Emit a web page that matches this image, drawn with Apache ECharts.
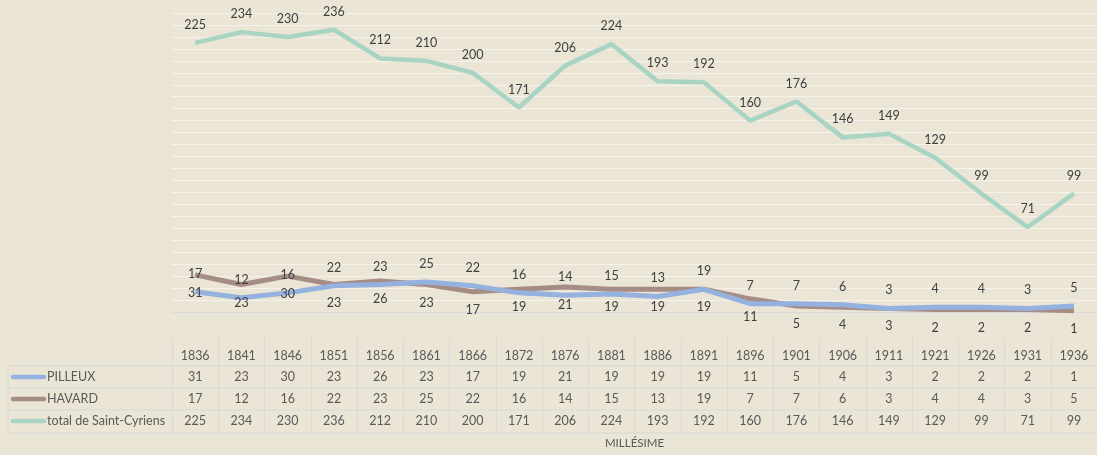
<!DOCTYPE html>
<html>
<head>
<meta charset="utf-8">
<script src="https://cdn.jsdelivr.net/npm/echarts@6/dist/echarts.min.js"></script>
<style>
  html, body { margin: 0; padding: 0; background: #ebe5d5; }
  #chart { width: 1097px; height: 455px; }
</style>
</head>
<body>
<div id="chart"></div>
<script>
const years = ["1836", "1841", "1846", "1851", "1856", "1861", "1866", "1872", "1876", "1881",
  "1886", "1891", "1896", "1901", "1906", "1911", "1921", "1926", "1931", "1936"];
const pilleux = [31, 23, 30, 23, 26, 23, 17, 19, 21, 19, 19, 19, 11, 5, 4, 3, 2, 2, 2, 1];
const havard = [17, 12, 16, 22, 23, 25, 22, 16, 14, 15, 13, 19, 7, 7, 6, 3, 4, 4, 3, 5];
const total = [225, 234, 230, 236, 212, 210, 200, 171, 206, 224, 193, 192, 160, 176, 146, 149, 129, 99, 71, 99];
const rowNames = ["PILLEUX", "HAVARD", "total de Saint-Cyriens"];
const rowData = [pilleux, havard, total];

const BLUE = "#94b1df";
const BROWN = "#a58c84";
const MINT = "#a8d4c3";
const keyColors = [BLUE, BROWN, MINT];
const FONT = "Lato, 'Open Sans', sans-serif";
const TEXT = "#595959";
const RULE = "#d9d9d9";

const rowY = [377, 399, 421];

const chart = echarts.init(document.getElementById("chart"));

// table rules + legend keys
const graphics = [];
[366, 388, 410, 433].forEach((y) => {
  graphics.push({
    type: "line",
    shape: { x1: 8, y1: y, x2: 1097, y2: y },
    style: { stroke: RULE, lineWidth: 1.2 },
  });
});
graphics.push({
  type: "line",
  shape: { x1: 8, y1: 366, x2: 8, y2: 433 },
  style: { stroke: RULE, lineWidth: 1.2 },
});
rowNames.forEach((name, i) => {
  graphics.push({
    type: "line",
    shape: { x1: 13, y1: rowY[i], x2: 44, y2: rowY[i] },
    style: { stroke: keyColors[i], lineWidth: 4.5, lineCap: "round" },
  });
  graphics.push({
    type: "text",
    x: 47,
    y: rowY[i],
    style: {
      text: name,
      fill: TEXT,
      font: "12.5px " + FONT,
      verticalAlign: "middle",
    },
  });
});

// one hidden axis per table row, labels read from the arrays
const rowAxes = rowData.map((arr, i) => ({
  type: "category",
  data: years,
  position: "bottom",
  offset: 50 + 22 * i,
  axisLine: { show: false },
  axisTick: { show: false },
  axisLabel: {
    margin: 8,
    color: TEXT,
    fontSize: 12.5,
    fontFamily: FONT,
    interval: 0,
    formatter: (v, idx) => String(arr[idx]),
  },
}));

function labelCfg(pos) {
  return {
    show: true,
    position: pos,
    distance: 11,
    color: "#404040",
    fontSize: 12.5,
    fontFamily: FONT,
  };
}

chart.setOption({
  backgroundColor: "#ebe5d5",
  animation: false,
  textStyle: { fontFamily: FONT },
  grid: { left: 172, right: 0, top: 13, bottom: 143 },
  xAxis: [
    {
      type: "category",
      data: years,
      axisLine: { lineStyle: { color: RULE, width: 1.2 } },
      axisTick: { show: false },
      axisLabel: { margin: 37, color: TEXT, fontSize: 12.5, fontFamily: FONT, interval: 0 },
      name: "MILLÉSIME",
      nameLocation: "middle",
      nameGap: 125,
      nameTextStyle: { color: TEXT, fontSize: 11.5, fontFamily: FONT },
    },
    {
      type: "category",
      data: years,
      position: "bottom",
      offset: 26,
      axisLine: { show: false },
      axisTick: { show: true, length: 95, interval: 0, lineStyle: { color: RULE, width: 1.2 } },
      axisLabel: { show: false },
    },
    ...rowAxes,
  ],
  yAxis: {
    type: "value",
    min: 0,
    max: 250,
    interval: 10,
    axisLine: { show: false },
    axisTick: { show: false },
    axisLabel: { show: false },
    splitLine: { lineStyle: { color: "#f6f3ec", width: 1.2 } },
  },
  graphic: graphics,
  series: [
    {
      name: "total de Saint-Cyriens",
      type: "line",
      data: total,
      symbol: "circle",
      symbolSize: 1,
      itemStyle: { color: MINT },
      lineStyle: { color: MINT, width: 4.5 },
      label: labelCfg("top"),
    },
    {
      name: "PILLEUX",
      type: "line",
      data: pilleux,
      symbol: "circle",
      symbolSize: 1,
      itemStyle: { color: BROWN },
      lineStyle: { color: BROWN, width: 5 },
      label: labelCfg("bottom"),
    },
    {
      name: "HAVARD",
      type: "line",
      data: havard,
      symbol: "circle",
      symbolSize: 1,
      itemStyle: { color: BLUE },
      lineStyle: { color: BLUE, width: 5 },
      label: labelCfg("top"),
    },
  ],
});

window.addEventListener("resize", () => chart.resize());
</script>
</body>
</html>
